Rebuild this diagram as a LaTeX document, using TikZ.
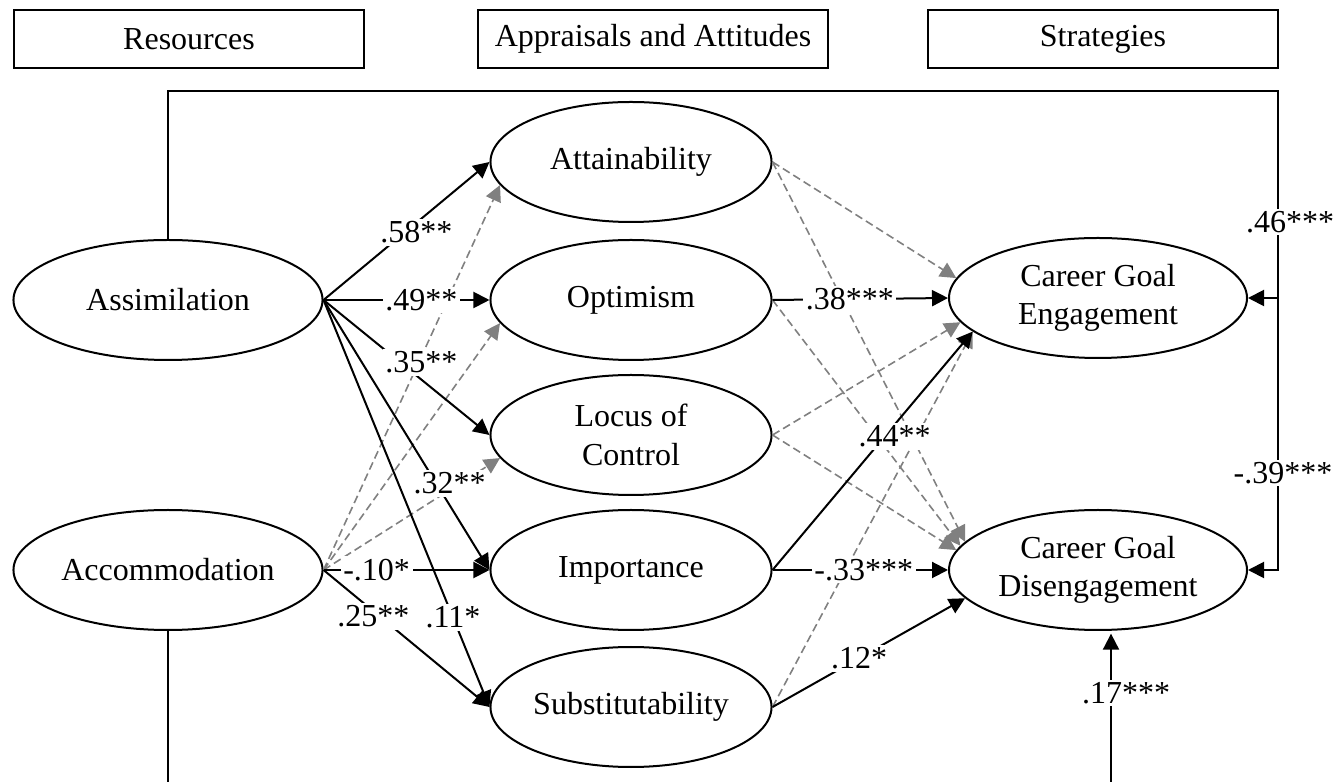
\documentclass[12pt,tikz,border=0pt]{standalone}
\usepackage{fontspec}
\setmainfont{Liberation Serif}
\usetikzlibrary{shapes.geometric, arrows.meta, positioning, calc}

\begin{document}
\begin{tikzpicture}[x=0.375pt, y=-0.375pt,
  hdr/.style={draw, line width=0.75pt, minimum width=131pt, minimum height=21.75pt, inner sep=0pt},
  latent/.style={draw, ellipse, line width=0.75pt, inner sep=0pt, minimum height=45pt, align=center},
  sig/.style={line width=0.75pt, -{Triangle[length=6pt, width=6pt]}},
  ns/.style={gray, line width=0.6pt, dash pattern=on 3pt off 1.6pt, -{Triangle[length=6pt, width=6pt]}},
  coef/.style={fill=white, inner sep=1pt}]
  \useasboundingbox (0,0) rectangle (1334,782);

  % 三列标题
  \node[hdr] (res)   at (189,39)  {Resources};
  \node[hdr] (app)   at (653,39)  {Appraisals and Attitudes};
  \node[hdr] (strat) at (1103,39) {Strategies};

  % 资源
  \node[latent, minimum width=115.9pt] (assim) at (168,300) {Assimilation};
  \node[latent, minimum width=115.9pt] (accom) at (168,570) {Accommodation};

  % 评价与态度
  \node[latent, minimum width=105.4pt] (attain) at (631,162) {Attainability};
  \node[latent, minimum width=105.4pt] (optim)  at (631,300) {Optimism};
  \node[latent, minimum width=105.4pt] (locus)  at (631,435) {Locus of\\Control};
  \node[latent, minimum width=105.4pt] (impor)  at (631,570) {Importance};
  \node[latent, minimum width=105.4pt] (subst)  at (631,707) {Substitutability};

  % 策略
  \node[latent, minimum width=111.75pt] (engage) at (1098,298) {Career Goal\\Engagement};
  \node[latent, minimum width=111.75pt] (diseng) at (1098,570) {Career Goal\\Disengagement};

  % 不显著路径（灰色虚线）
  \draw[ns] (accom.east) -- (attain.190);
  \draw[ns] (accom.east) -- (optim.190);
  \draw[ns] (accom.east) -- (locus.190);
  \draw[ns] (attain.east) -- (engage.172);
  \draw[ns] (attain.east) -- (diseng.168);
  \draw[ns] (optim.east) -- (diseng.170);
  \draw[ns] (locus.east) -- (engage.190);
  \draw[ns] (locus.east) -- (diseng.172);
  \draw[ns] (subst.east) -- (engage.195);

  % 显著路径：资源 -> 评价与态度
  \draw[sig] (assim.east) -- node[coef, pos=0.56, yshift=-3.5pt] {.58**} (attain.west);
  \draw[sig] (assim.east) -- node[coef, pos=0.59] {.49**} (optim.west);
  \draw[sig] (assim.east) -- node[coef, pos=0.59, yshift=6.5pt] {.35**} (locus.west);
  \draw[sig] (assim.east) -- node[coef, pos=0.68, xshift=5pt] {.32**} (impor.west);
  \draw[sig] (assim.east) -- node[coef, pos=0.78] {.11*} (subst.west);
  \draw[sig] (accom.east) -- node[coef, pos=0.32] {-.10*} (impor.west);
  \draw[sig] (accom.east) -- node[coef, pos=0.3, yshift=-2pt] {.25**} (subst.west);

  % 显著路径：评价与态度 -> 策略
  \draw[sig] (optim.east) -- node[coef, pos=0.44] {.38***} (engage.west);
  \draw[sig] (impor.east) -- node[coef, pos=0.56, xshift=3.75pt] {.44**} (engage.195);
  \draw[sig] (impor.east) -- node[coef, pos=0.52] {-.33***} (diseng.west);
  \draw[sig] (subst.east) -- node[coef, pos=0.45] {.12*} (diseng.192);

  % 资源直接指向策略
  \coordinate (tr) at (1278,91);
  \draw[sig] (assim.north) |- (tr) -- (tr |- diseng.east) -- (diseng.east);
  \draw[sig] (tr |- engage.east) -- (engage.east);
  \node[coef] (c46) at (1290,222) {.46***};
  \node[coef] (c39) at (1283,473) {-.39***};

  \coordinate (bl) at (168,782);
  \coordinate (br) at (1111,782);
  \draw[line width=0.75pt] (accom.south) -- (bl);
  \draw[sig, shorten >=1pt] (br) -- (br |- diseng.south);
  \node[coef] (c17) at (1126,693) {.17***};
\end{tikzpicture}
\end{document}
